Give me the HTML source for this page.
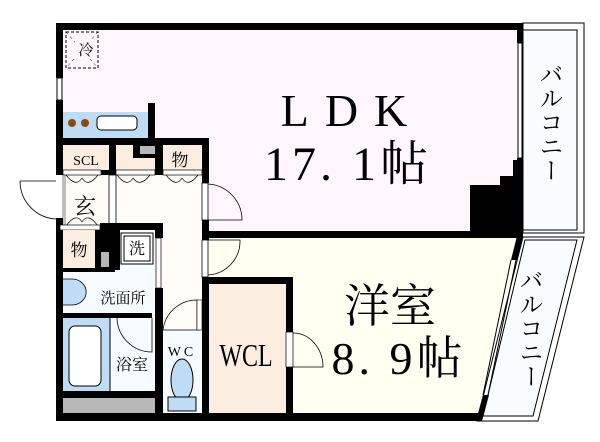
<!DOCTYPE html>
<html><head><meta charset="utf-8"><style>
html,body{margin:0;padding:0;background:#fff;}
svg{display:block;}
text{font-family:"Liberation Serif","Noto Serif CJK SC",serif;fill:#000;}
</style></head><body>
<svg width="600" height="442" viewBox="0 0 600 442" xmlns="http://www.w3.org/2000/svg">
<rect width="600" height="442" fill="#fff"/>
<rect x="63" y="30" width="455" height="203" fill="#fff6fb"/>
<polygon points="208,238 522,238 475,416 208,416" fill="#fffff2"/>
<rect x="63" y="145" width="140" height="270" fill="#fffcf8"/>
<rect x="63" y="233" width="93" height="180" fill="#f6fbff"/>
<rect x="523" y="23" width="61" height="210" fill="#fff" stroke="#000" stroke-width="1"/>
<rect x="523" y="30" width="54" height="200" fill="#f8fcff" stroke="#000" stroke-width="1"/>
<polygon points="523,237 584,237 538,421 477,421" fill="#fff" stroke="#000" stroke-width="1"/>
<polygon points="525,240 577,240 533,416 483,416" fill="#f8fcff" stroke="#000" stroke-width="1"/>
<rect x="56" y="23" width="467" height="7" fill="#000"/>
<rect x="56" y="23" width="7" height="55" fill="#000"/>
<rect x="56" y="100" width="7" height="75" fill="#000"/>
<rect x="57" y="78" width="5" height="22" fill="#fff" stroke="#000" stroke-width="1"/>
<rect x="517" y="23" width="6" height="20" fill="#000"/>
<rect x="518" y="43" width="4" height="115" fill="#fff" stroke="#000" stroke-width="1"/>
<rect x="517" y="158" width="6" height="80" fill="#000"/>
<polygon points="470,232 470,185 500,185 500,176 513,176 513,160 518,160 518,232" fill="#000"/>
<rect x="202" y="231" width="321" height="7" fill="#000"/>
<polygon points="517,236 523,236 517,260 511,260" fill="#000"/>
<polygon points="483,395 489,395 482,421 476,421" fill="#000"/>
<line x1="511" y1="260" x2="483" y2="395" stroke="#000" stroke-width="1"/>
<line x1="516" y1="260" x2="488" y2="395" stroke="#000" stroke-width="1"/>
<rect x="56" y="413" width="424" height="8" fill="#000"/>
<rect x="56" y="218" width="7" height="203" fill="#000"/>
<rect x="66" y="32" width="32" height="36" fill="none" stroke="#000" stroke-dasharray="3,2"/>
<line x1="66" y1="32" x2="98" y2="68" stroke="#000" stroke-width=".5" stroke-dasharray="3,3"/>
<line x1="98" y1="32" x2="66" y2="68" stroke="#000" stroke-width=".5" stroke-dasharray="3,3"/>
<rect x="75" y="40" width="16" height="18" fill="#fff6fb"/>
<text x="86" y="55" font-size="15" text-anchor="middle">冷</text>
<rect x="63" y="112" width="85" height="26" fill="#bfdcf7"/>
<circle cx="72" cy="123" r="4" fill="#8b4a10"/><circle cx="85" cy="123" r="4" fill="#8b4a10"/>
<rect x="97" y="116" width="40" height="14" rx="4" fill="#fff" stroke="#000"/>
<rect x="148" y="103" width="7" height="37" fill="#000"/>
<rect x="56" y="138" width="152" height="7" fill="#000"/>
<rect x="63" y="145" width="46" height="25" fill="#fbeee0"/>
<text x="86" y="165" font-size="14" text-anchor="middle">SCL</text>
<rect x="109" y="145" width="7" height="30" fill="#000"/>
<rect x="116" y="145" width="40" height="25" fill="#fbeee0"/>
<rect x="133" y="145" width="22" height="13" fill="#000"/><rect x="140" y="146" width="15" height="8" fill="#b8b8b8"/>
<rect x="155" y="145" width="8" height="30" fill="#000"/>
<rect x="163" y="145" width="38" height="25" fill="#fbeee0"/>
<text x="180" y="166" font-size="17" text-anchor="middle">物</text>
<rect x="202" y="138" width="7" height="45" fill="#000"/>
<rect x="101" y="170" width="8" height="5" fill="#000"/>
<rect x="155" y="170" width="8" height="5" fill="#000"/>
<rect x="63" y="170" width="38" height="5" fill="#fff" stroke="#000" stroke-width=".7"/>
<rect x="116" y="170" width="39" height="5" fill="#fff" stroke="#000" stroke-width=".7"/>
<rect x="163" y="170" width="39" height="5" fill="#fff" stroke="#000" stroke-width=".7"/>
<g fill="none" stroke="#000" stroke-width=".7">
<path d="M66,175 Q76,188 82,178 M98,175 Q88,188 82,178"/>
<path d="M117,175 Q127,188 133,178 M150,175 Q140,188 133,178"/>
<path d="M166,175 Q176,188 182,178 M198,175 Q188,188 182,178"/>
<path d="M66,226 Q76,212 82,222 M98,226 Q88,212 82,222"/>
</g>
<rect x="63" y="175" width="2" height="50" fill="#fff" stroke="#000" stroke-width=".5"/>
<rect x="109" y="175" width="7" height="55" fill="#fff" stroke="#000" stroke-width=".8"/>
<text x="85" y="214" font-size="22" text-anchor="middle">玄</text>
<rect x="60" y="225" width="40" height="5" fill="#fff" stroke="#000" stroke-width=".7"/>
<rect x="100" y="223" width="63" height="7" fill="#000"/>
<path d="M20,181 L56,181 M20,181 A38,38 0 0 0 56,219" fill="none" stroke="#000" stroke-width=".8"/>
<rect x="202" y="183" width="6" height="37" fill="#fff" stroke="#000" stroke-width=".8"/>
<path d="M208,184 A36,36 0 0 1 242,220 L208,220" fill="none" stroke="#000" stroke-width=".8"/>
<rect x="202" y="220" width="7" height="20" fill="#000"/>
<rect x="202" y="240" width="6" height="37" fill="#fff" stroke="#000" stroke-width=".8"/>
<path d="M208,240 L240,240 A34,34 0 0 1 208,275" fill="none" stroke="#000" stroke-width=".8"/>
<rect x="63" y="230" width="38" height="40" fill="#fbeee0"/>
<text x="79" y="256" font-size="17" text-anchor="middle">物</text>
<rect x="95" y="230" width="20" height="40" fill="#000"/><rect x="101" y="252" width="8" height="15" fill="#b8b8b8"/>
<rect x="56" y="268" width="59" height="4" fill="#000"/>
<rect x="115" y="230" width="5" height="40" fill="#000"/>
<rect x="121" y="233" width="32" height="31" fill="#fff" stroke="#000"/>
<rect x="124" y="236" width="26" height="25" fill="#fff" stroke="#000"/>
<text x="137" y="254" font-size="16" text-anchor="middle">洗</text>
<rect x="155" y="228" width="8" height="10" fill="#000"/>
<rect x="156" y="238" width="5" height="50" fill="#fff" stroke="#000" stroke-width=".7"/>
<path d="M63,279 L72,279 A12,11 0 0 1 72,305 L63,305" fill="#bfdcf7" stroke="#000" stroke-width=".8"/>
<text x="123" y="303" font-size="15" text-anchor="middle">洗面所</text>
<rect x="56" y="313" width="96" height="5" fill="#000"/>
<rect x="155" y="288" width="8" height="125" fill="#000"/>
<path d="M117,318 A35,35 0 0 0 152,352 L152,318" fill="none" stroke="#000" stroke-width=".8"/>
<rect x="63" y="318" width="47" height="73" fill="#bfdcf7"/>
<rect x="69" y="326" width="32" height="60" rx="6" fill="#fff" stroke="#000"/>
<line x1="110" y1="318" x2="110" y2="391" stroke="#000"/>
<text x="132" y="370" font-size="16" text-anchor="middle">浴室</text>
<rect x="56" y="391" width="100" height="7" fill="#000"/>
<rect x="63" y="398" width="92" height="15" fill="#b8b8b8"/>
<rect x="163" y="330" width="39" height="83" fill="#f6fbff"/>
<path d="M163,330 A34,34 0 0 1 197,300 L197,330" fill="none" stroke="#000" stroke-width=".8"/>
<line x1="163" y1="330" x2="200" y2="330" stroke="#000" stroke-width=".8"/>
<rect x="197" y="300" width="5" height="30" fill="#fff" stroke="#000" stroke-width=".6"/>
<text x="182" y="356" font-size="14" text-anchor="middle" letter-spacing="3">WC</text>
<ellipse cx="182" cy="380" rx="11" ry="21" fill="#bfdcf7" stroke="#000"/>
<rect x="168" y="397" width="28" height="14" fill="#bfdcf7" stroke="#000"/>
<rect x="202" y="277" width="91" height="140" fill="#000"/>
<rect x="209" y="284" width="77" height="129" fill="#fbeee0"/>
<text x="246" y="366" font-size="32" text-anchor="middle" transform="translate(246 0) scale(0.75 1) translate(-246 0)">WCL</text>
<rect x="286" y="332" width="7" height="35" fill="#fff" stroke="#000" stroke-width=".7"/>
<path d="M293,333 A30,34 0 0 1 323,367 L293,367" fill="none" stroke="#000" stroke-width=".8"/>
<text x="352" y="126" font-size="46" text-anchor="middle" letter-spacing="16">LDK</text>
<text x="348" y="180" font-size="48" text-anchor="middle" letter-spacing="4">17. 1帖</text>
<text x="390" y="322" font-size="46" text-anchor="middle">洋室</text>
<text x="399" y="374" font-size="46" text-anchor="middle" letter-spacing="4">8. 9帖</text>
<text x="548" y="62" font-size="24" style="writing-mode:vertical-rl">バルコニー</text>
<text x="528" y="268" font-size="24" style="writing-mode:vertical-rl">バルコニー</text>
</svg>
</body></html>
